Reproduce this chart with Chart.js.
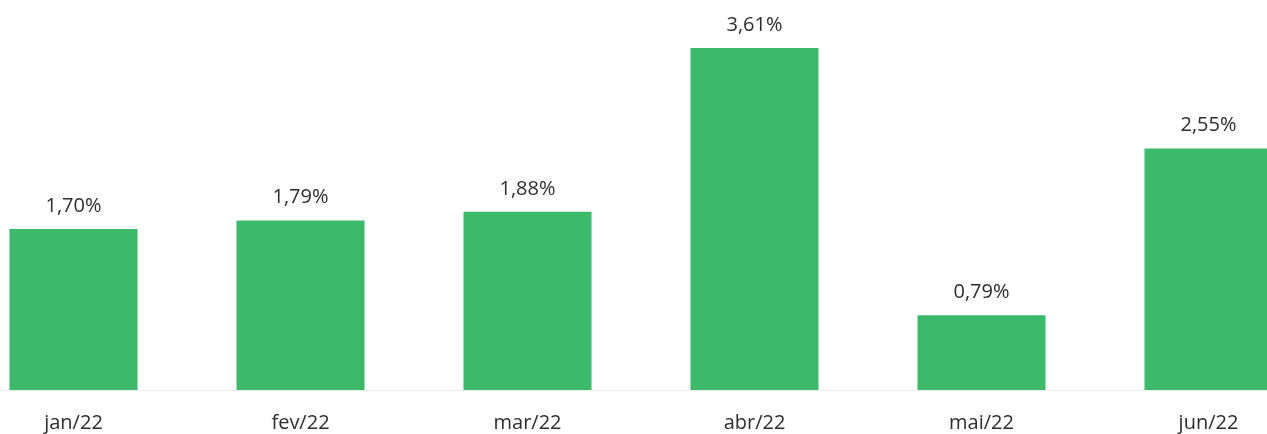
<!DOCTYPE html>
<html>
<head>
<meta charset="utf-8">
<script src="https://cdn.jsdelivr.net/npm/chart.js@4"></script>
<style>
  html, body { margin: 0; padding: 0; background: #fff; overflow: hidden; }
  #wrap { position: absolute; left: -40px; top: 0; width: 1362px; height: 456px; }
</style>
</head>
<body>
<div id="wrap"><canvas id="c"></canvas></div>
<script>
var months = ["jan/22", "fev/22", "mar/22", "abr/22", "mai/22", "jun/22"];
var rates = [1.70, 1.79, 1.88, 3.61, 0.79, 2.55];

function fmt(v) {
    return v.toFixed(2).replace(".", ",") + "%";
}

// value labels over each bar
var barLabels = {
    id: "barLabels",
    afterDatasetsDraw: function(chart) {
        var ctx = chart.ctx;
        var meta = chart.getDatasetMeta(0);
        ctx.save();
        ctx.font = '20px "Open Sans", sans-serif';
        ctx.fillStyle = "#2e2e2e";
        ctx.textAlign = "center";
        ctx.textBaseline = "middle";
        meta.data.forEach(function(bar, i) {
            ctx.fillText(fmt(rates[i]), bar.x, bar.y - 23);
        });
        ctx.restore();
    }
};

Chart.defaults.font.family = '"Open Sans", sans-serif';

new Chart(document.getElementById("c"), {
    type: "bar",
    data: {
        labels: months,
        datasets: [{
            data: rates,
            backgroundColor: "#3cb96b",
            borderWidth: 0
        }]
    },
    options: {
        responsive: true,
        maintainAspectRatio: false,
        animation: false,
        layout: { padding: { top: 11, left: 0, right: 0, bottom: 0 } },
        plugins: {
            legend: { display: false },
            tooltip: { enabled: false }
        },
        datasets: {
            bar: { categoryPercentage: 1, barPercentage: 0.564 }
        },
        scales: {
            x: {
                grid: { display: false, drawTicks: false },
                border: { display: true, color: "#ececec" },
                ticks: { color: "#2e2e2e", font: { size: 20 }, padding: 21 }
            },
            y: {
                display: false,
                min: 0,
                max: 4
            }
        }
    },
    plugins: [barLabels]
});
</script>
</body>
</html>
